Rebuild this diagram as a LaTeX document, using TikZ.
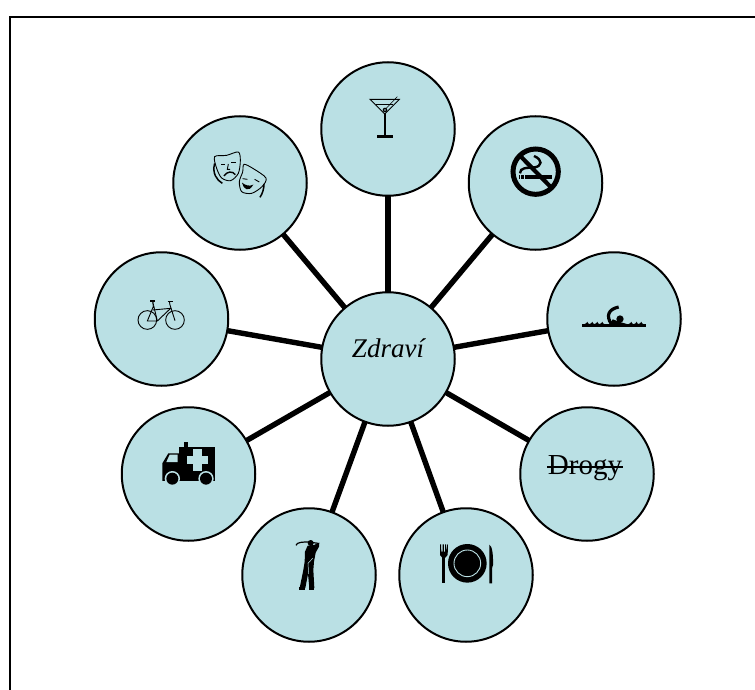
\documentclass[tikz,border=0pt]{standalone}
\usepackage{fontspec}
\setmainfont{Liberation Serif}
\definecolor{bub}{RGB}{186,224,228}
\tikzset{
  bubble/.style={circle,draw=black,fill=bub,line width=2pt,minimum size=133.5pt,inner sep=0pt,outer sep=0pt},
  spoke/.style={line width=5.4pt,black},
  word/.style={font=\fontsize{27}{30}\selectfont,inner sep=0pt,text=black},
  thin line/.style={line width=0.9pt,black},
  zoomed/.style={scale=1/3}
}
\begin{document}
\begin{tikzpicture}[x=1pt,y=-1pt]
\useasboundingbox (0,0) rectangle (755,690);
\fill[white] (0,0) rectangle (755,690);
\draw[line width=2.4pt,line join=miter] (755,17) -- (10.2,17) -- (10.2,690);
% circles
\node[bubble] (c) at (388,359) {};
\node[bubble] (n1) at (388,129) {};
\node[bubble] (n2) at (535.5,183) {};
\node[bubble] (n3) at (614,319) {};
\node[bubble] (n4) at (587,474) {};
\node[bubble] (n5) at (466,575) {};
\node[bubble] (n6) at (309,575) {};
\node[bubble] (n7) at (188.5,474) {};
\node[bubble] (n8) at (161.5,319) {};
\node[bubble] (n9) at (240,183) {};
\foreach \n in {n1,n2,n3,n4,n5,n6,n7,n8,n9} \draw[spoke] (c) -- (\n);
% texts
\node[word] (zt) at (388,348) {\itshape Zdraví};
\node[word,font=\fontsize{29}{32}\selectfont] (dt) at (585,468) {Drogy};
\draw[line width=2pt] (547,467) -- (623,467);
% martini
\begin{scope}[shift={(340,80)},zoomed]
  \draw[thin line,line join=miter] (90,58) -- (178,58) -- (134,102) -- cycle;
  \draw[thin line] (108,74) -- (160,74);
  \draw[line width=0.6pt] (132,92) -- (172,50);
  \draw[line width=2pt] (134,100) -- (134,170);
  \fill (112,166) rectangle (158,174);
  \fill (135,90) circle (7);
  \fill[bub] (135,90) circle (2.5);
  % no smoking
  \draw[line width=5pt] (587,275) circle (68);
  \draw[line width=4.2pt] (538,225) -- (636,325);
  \fill (556,284) rectangle (636,298);
  \fill (536,284) rectangle (540,298);
  \fill (544,284) rectangle (548,298);
  \fill (550,284) rectangle (553,298);
  \draw[line width=2.4pt] (540,280) .. controls (540,262) and (560,264) .. (585,262)
     .. controls (605,258) and (610,240) .. (582,228);
\end{scope}
% masks
\begin{scope}[shift={(120,140)},zoomed]
  \draw[thin line] plot[smooth cycle,tension=0.5] coordinates {(284,50) (320,46) (355,36) (361,62) (355,100) (332,122) (305,114) (290,85)};
  \draw[line width=1.5pt] (284,70) .. controls (276,100) and (290,120) .. (307,130);
  \fill (303,71) rectangle (316,75);
  \fill (333,66) rectangle (347,70);
  \draw[thin line] (325,72) -- (322,88) -- (330,88);
  \draw[line width=1.4pt] (312,108) .. controls (320,94) and (338,92) .. (346,104);
  \draw[thin line] plot[smooth cycle,tension=0.5] coordinates {(372,73) (400,86) (438,114) (426,140) (395,160) (365,155) (358,125) (368,96)};
  \draw[line width=1.5pt] (432,132) .. controls (432,145) and (428,160) .. (420,172);
  \draw[thin line] (368,116) -- (382,118) (404,118) -- (418,126);
  \fill (366,128) .. controls (370,146) and (385,160) .. (400,134) .. controls (388,140) and (376,136) .. (366,128) -- cycle;
  % bicycle
  \draw[thin line] (82,540) circle (28);
  \draw[thin line] (165,540) circle (28);
  \draw[thin line,line join=round] (82,543) -- (101,497) -- (112,543) -- cycle;
  \draw[thin line,line join=round] (98,510) -- (152,505) -- (112,543);
  \draw[thin line] (165,542) -- (150,495) -- (148,484);
  \draw[line width=1.4pt] (143,484) -- (160,484);
  \draw[line width=2.2pt] (90,482) -- (106,482);
  \draw[line width=1.2pt] (98,482) -- (100,497);
\end{scope}
% ambulance and golfer
\begin{scope}[shift={(140,430)},zoomed]
  \fill (132,36) rectangle (143,50);
  \fill (118,50) rectangle (224,153);
  \fill (67,153) -- (67,100) -- (85,70) -- (118,70) -- (118,153) -- cycle;
  \fill[bub] (89,74) -- (113,74) -- (113,96) -- (79,96) -- cycle;
  \fill[bub] (160,58) rectangle (185,122);
  \fill[bub] (140,78) rectangle (205,103);
  \fill[bub] (97,146) circle (23);
  \fill[bub] (198,146) circle (23);
  \fill[bub] (60,153) rectangle (76,170);
  \fill[bub] (118,153) rectangle (177,170);
  \fill[bub] (219,153) rectangle (230,170);
  \fill (97,146) circle (18);
  \fill (198,146) circle (18);
  % golfer
  \fill (512,339) circle (9);
  \draw[line width=1.2pt] (468,346) .. controls (470,336) and (490,336) .. (505,336) -- (535,340);
  \fill (503,347) -- (522,345) -- (538,338) -- (537,350) -- (527,368) -- (522,395) -- (520,420) -- (523,474) -- (508,474) -- (504,432) -- (496,474) -- (479,474) -- (490,420) -- (494,395) -- (495,365) -- cycle;
  \fill (476,470) rectangle (495,480);
  \fill (506,472) rectangle (522,480);
  \draw[bub,line width=0.5pt] (506,432) -- (504,400) -- (518,385);
\end{scope}
% swimmer, plate
\begin{scope}[shift={(420,290)},zoomed]
  \fill (487,102) rectangle (679,110);
  \foreach \w in {500,515,530,545,632,648,662} \fill (\w-6,102) .. controls (\w-2,102) and (\w,98) .. (\w+2,95) .. controls (\w+3,99) and (\w+5,102) .. (\w+8,102) -- cycle;
  \fill (600,87) circle (11);
  \draw[line width=3.2pt] (574,102) .. controls (558,78) and (564,58) .. (596,51);
  \fill (570,102) -- (578,88) -- (600,96) -- (624,103) -- cycle;
  % plate
  \fill (142,820) circle (58);
  \draw[bub,line width=0.9pt] (142,820) circle (40);
  \draw[line width=3pt] (71,790) -- (71,880);
  \fill (60,763) -- (63,763) -- (64,785) -- (68,785) -- (68,763) -- (71.5,763) -- (71.5,785) -- (75,785) -- (75,763) -- (78,763) -- (79,785) -- (82,763) -- (84,763) -- (83,795) -- (71,808) -- (60,795) -- cycle;
  \fill (208,880) -- (208,764) .. controls (216,768) and (220,790) .. (219,825) -- (216,835) -- (216,880) -- cycle;
\end{scope}
\end{tikzpicture}
\end{document}
